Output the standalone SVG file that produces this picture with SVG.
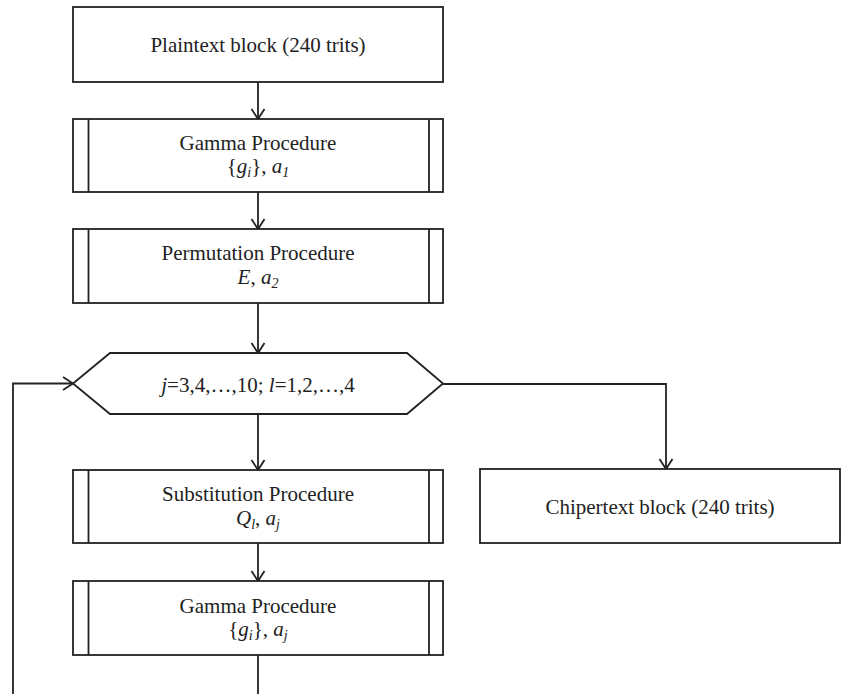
<svg xmlns="http://www.w3.org/2000/svg" width="842" height="694" viewBox="0 0 842 694">
<style>
.box{fill:#fff;stroke:#222;stroke-width:1.8}
.inner{stroke:#222;stroke-width:1.8;fill:none}
.t{font-family:"Liberation Serif","Times New Roman",serif;font-size:21px;fill:#222;text-anchor:middle}
.i{font-style:italic}
.sub{font-size:14px;font-style:italic}
.conn{fill:none;stroke:#222;stroke-width:1.8}
</style>
<defs>
<marker id="arr" viewBox="-12 -8 14 16" markerWidth="14" markerHeight="16" refX="0" refY="0" orient="auto" markerUnits="userSpaceOnUse">
<path d="M-10,-6.5 L0,0 L-10,6.5" fill="none" stroke="#222" stroke-width="1.8"/>
</marker>
</defs>
<rect width="842" height="694" fill="#fff"/>
<g id="connectors">
<line class="conn" x1="258" y1="82" x2="258" y2="119" marker-end="url(#arr)"/>
<line class="conn" x1="258" y1="192" x2="258" y2="229" marker-end="url(#arr)"/>
<line class="conn" x1="258" y1="303" x2="258" y2="353" marker-end="url(#arr)"/>
<line class="conn" x1="258" y1="414" x2="258" y2="470" marker-end="url(#arr)"/>
<line class="conn" x1="258" y1="543" x2="258" y2="581" marker-end="url(#arr)"/>
<polyline class="conn" points="443,384 666,384 666,469" marker-end="url(#arr)"/>
<line class="conn" x1="258" y1="655" x2="258" y2="694"/>
<polyline class="conn" points="13,694 13,383.5 73,383.5" marker-end="url(#arr)"/>
</g>
<g id="plaintext">
<rect class="box" x="73" y="7" width="370" height="75" stroke-width="2.2"/>
<text class="t" x="258" y="52">Plaintext block (240 trits)</text>
</g>
<g id="gamma1">
<rect class="box" x="73" y="119" width="370" height="73"/>
<line class="inner" x1="88.5" y1="119" x2="88.5" y2="192"/>
<line class="inner" x1="429" y1="119" x2="429" y2="192"/>
<text class="t" x="258" y="150">Gamma Procedure</text>
<text class="t" x="258" y="173">{<tspan class="i">g</tspan><tspan class="sub" dy="4">i</tspan><tspan dy="-4">}, </tspan><tspan class="i">a</tspan><tspan class="sub" dy="4">1</tspan></text>
</g>
<g id="permutation">
<rect class="box" x="73" y="229" width="370" height="74"/>
<line class="inner" x1="88.5" y1="229" x2="88.5" y2="303"/>
<line class="inner" x1="429" y1="229" x2="429" y2="303"/>
<text class="t" x="258" y="260">Permutation Procedure</text>
<text class="t" x="258" y="284"><tspan class="i">E</tspan>, <tspan class="i">a</tspan><tspan class="sub" dy="4">2</tspan></text>
</g>
<g id="loop">
<polygon class="box" points="73,383.5 110,353 407,353 443,383.5 407,414 110,414"/>
<text class="t" x="258" y="392"><tspan class="i">j</tspan>=3,4,…,10; <tspan class="i">l</tspan>=1,2,…,4</text>
</g>
<g id="substitution">
<rect class="box" x="73" y="470" width="370" height="73"/>
<line class="inner" x1="88.5" y1="470" x2="88.5" y2="543"/>
<line class="inner" x1="429" y1="470" x2="429" y2="543"/>
<text class="t" x="258" y="501">Substitution Procedure</text>
<text class="t" x="258" y="525"><tspan class="i">Q</tspan><tspan class="sub" dy="4">l</tspan><tspan dy="-4">, </tspan><tspan class="i">a</tspan><tspan class="sub" dy="4">j</tspan></text>
</g>
<g id="gamma2">
<rect class="box" x="73" y="581" width="370" height="74"/>
<line class="inner" x1="88.5" y1="581" x2="88.5" y2="655"/>
<line class="inner" x1="429" y1="581" x2="429" y2="655"/>
<text class="t" x="258" y="613">Gamma Procedure</text>
<text class="t" x="258" y="636">{<tspan class="i">g</tspan><tspan class="sub" dy="4">i</tspan><tspan dy="-4">}, </tspan><tspan class="i">a</tspan><tspan class="sub" dy="4">j</tspan></text>
</g>
<g id="ciphertext">
<rect class="box" x="480" y="469" width="360" height="74"/>
<text class="t" x="660" y="514">Chipertext block (240 trits)</text>
</g>
</svg>
